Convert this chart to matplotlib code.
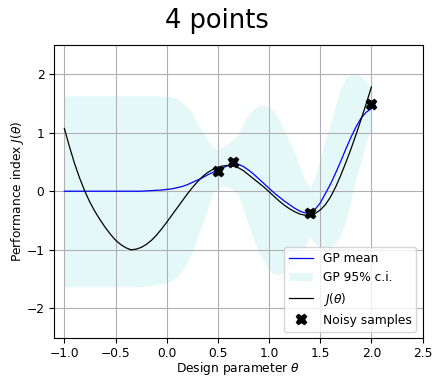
import numpy as np
import matplotlib
matplotlib.use("Agg")
import matplotlib.pyplot as plt

# grid of design parameter values (step 0.05 from -1 to 2)
theta = [-1.00, -0.95, -0.90, -0.85, -0.80, -0.75, -0.70, -0.65, -0.60, -0.55,
         -0.50, -0.45, -0.40, -0.35, -0.30, -0.25, -0.20, -0.15, -0.10, -0.05,
         0.00, 0.05, 0.10, 0.15, 0.20, 0.25, 0.30, 0.35, 0.40, 0.45,
         0.50, 0.55, 0.60, 0.65, 0.70, 0.75, 0.80, 0.85, 0.90, 0.95,
         1.00, 1.05, 1.10, 1.15, 1.20, 1.25, 1.30, 1.35, 1.40, 1.45,
         1.50, 1.55, 1.60, 1.65, 1.70, 1.75, 1.80, 1.85, 1.90, 1.95,
         2.00]

# true performance index J(theta)
J_true = [1.07, 0.76, 0.47, 0.22, 0.00, -0.19, -0.35, -0.49, -0.62, -0.735,
          -0.835, -0.91, -0.965, -1.00, -0.99, -0.96, -0.91, -0.84, -0.75, -0.645,
          -0.53, -0.41, -0.29, -0.17, -0.05, 0.06, 0.16, 0.25, 0.32, 0.37,
          0.41, 0.43, 0.44, 0.43, 0.40, 0.35, 0.28, 0.21, 0.14, 0.07,
          -0.01, -0.09, -0.17, -0.24, -0.30, -0.35, -0.39, -0.41, -0.41, -0.38,
          -0.32, -0.23, -0.10, 0.07, 0.27, 0.49, 0.72, 0.97, 1.23, 1.50,
          1.78]

# GP posterior mean
gp_mean = [0.00, 0.00, 0.00, 0.00, 0.00, 0.00, 0.00, 0.00, 0.00, 0.00,
           0.00, 0.00, 0.00, 0.00, 0.00, 0.00, 0.005, 0.01, 0.015, 0.02,
           0.03, 0.04, 0.06, 0.08, 0.11, 0.15, 0.19, 0.23, 0.28, 0.32,
           0.36, 0.40, 0.44, 0.47, 0.46, 0.42, 0.36, 0.29, 0.21, 0.13,
           0.05, -0.03, -0.10, -0.17, -0.23, -0.29, -0.34, -0.37, -0.37, -0.31,
           -0.20, -0.04, 0.12, 0.31, 0.51, 0.72, 0.92, 1.10, 1.25, 1.35,
           1.41]

# 95% confidence band
ci_upper = [1.63, 1.63, 1.63, 1.63, 1.63, 1.63, 1.63, 1.63, 1.63, 1.63,
            1.63, 1.63, 1.63, 1.63, 1.63, 1.63, 1.63, 1.63, 1.63, 1.62,
            1.62, 1.61, 1.58, 1.52, 1.44, 1.34, 1.16, 1.02, 0.87, 0.76,
            0.70, 0.76, 0.82, 0.88, 0.98, 1.16, 1.31, 1.41, 1.46, 1.47,
            1.44, 1.36, 1.22, 1.04, 0.85, 0.66, 0.42, 0.20, 0.06, 0.26,
            0.56, 0.88, 1.16, 1.48, 1.76, 1.94, 1.99, 1.99, 1.96, 1.87,
            1.75]
ci_lower = [-1.63, -1.63, -1.63, -1.63, -1.63, -1.63, -1.63, -1.63, -1.63, -1.63,
            -1.63, -1.63, -1.63, -1.63, -1.63, -1.63, -1.62, -1.61, -1.60, -1.58,
            -1.56, -1.53, -1.46, -1.36, -1.22, -1.04, -0.78, -0.56, -0.31, -0.04,
            0.06, 0.09, 0.07, 0.03, -0.06, -0.32, -0.59, -0.83, -1.04, -1.21,
            -1.34, -1.42, -1.42, -1.38, -1.31, -1.24, -1.10, -0.94, -0.78, -0.89,
            -0.96, -0.98, -0.95, -0.88, -0.76, -0.50, -0.15, 0.21, 0.52, 0.83,
            1.07]

# noisy observations
sample_theta = [0.50, 0.65, 1.40, 2.00]
sample_J = [0.35, 0.50, -0.38, 1.48]

plt.rcParams['font.size'] = 8.8

fig = plt.figure(figsize=(4.33, 3.76), dpi=100)
ax = fig.add_subplot(111)
fig.subplots_adjust(left=0.125, right=0.976, top=0.881, bottom=0.102)

ax.plot(theta, gp_mean, 'b', lw=0.9, label='GP mean')
ax.fill_between(theta, ci_lower, ci_upper, color='c', alpha=0.1, lw=0,
                label='GP 95% c.i.')
ax.plot(theta, J_true, 'k', lw=0.9, label=r'$J(\theta)$')
ax.plot(sample_theta, sample_J, 'kX', ms=7.5, label='Noisy samples')

ax.set_xlim(-1.1, 2.5)
ax.set_ylim(-2.5, 2.5)
ax.set_xticks(np.arange(-1.0, 2.51, 0.5))
ax.set_yticks([-2, -1, 0, 1, 2])
ax.grid(True)
ax.set_xlabel(r'Design parameter $\theta$', labelpad=0)
ax.set_ylabel(r'Performance index $J(\theta)$', labelpad=0)
fig.suptitle('4 points', fontsize=18.5, y=0.98)
ax.legend(loc='lower right')

fig.savefig('out.png', dpi=100)
